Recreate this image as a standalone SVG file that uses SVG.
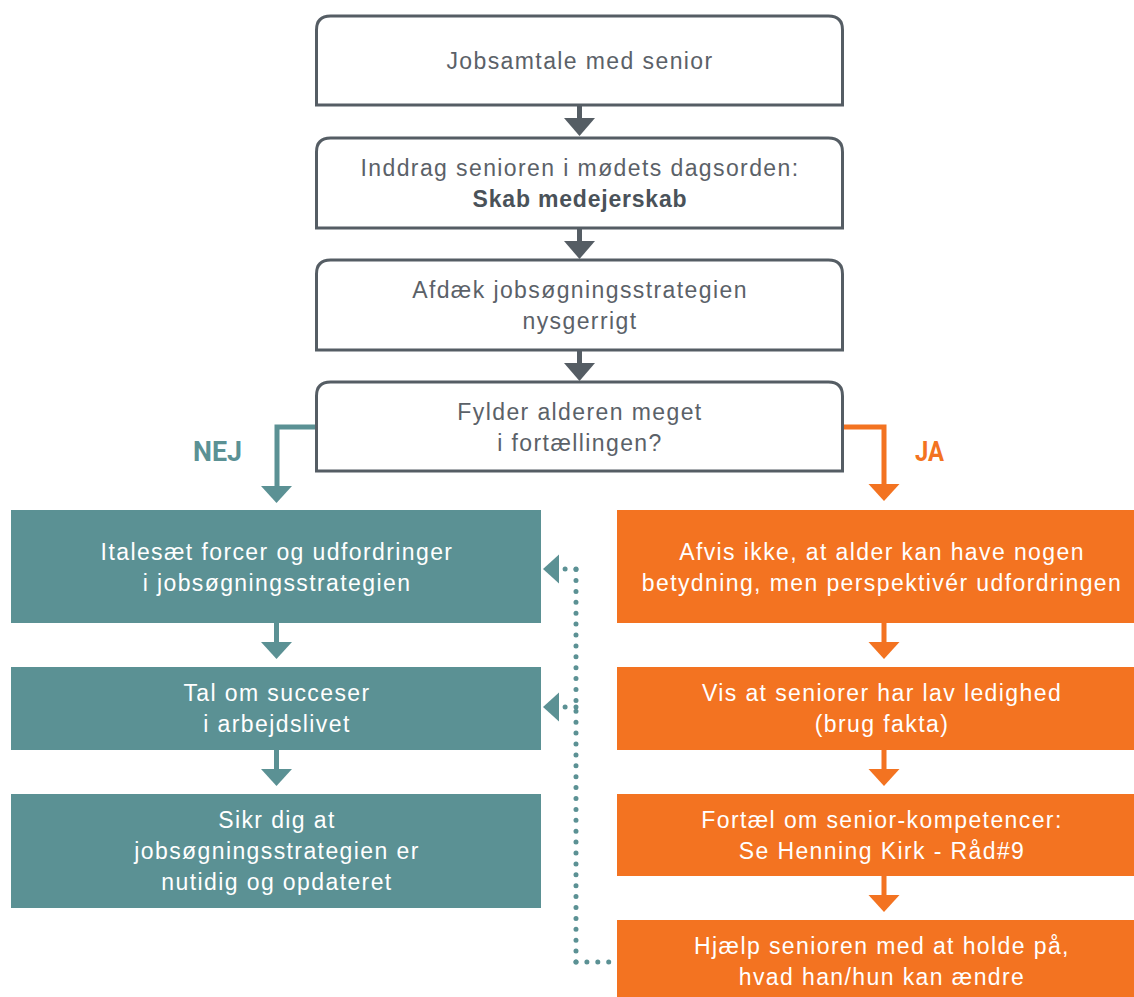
<svg xmlns="http://www.w3.org/2000/svg" width="1134" height="997" viewBox="0 0 1134 997">
<style>
.wbox{fill:#ffffff;stroke:#555d64;stroke-width:3}
.teal{fill:#5b9194}
.orange{fill:#f37321}
.t{font-family:"Liberation Sans",Arial,sans-serif;font-size:23px;letter-spacing:1.4px;text-anchor:middle}
.g{fill:#5b6168}
.w{fill:#ffffff}
.b{font-weight:bold;fill:#4a5259;letter-spacing:0.8px}
.lbl{font-family:Roboto,"Liberation Sans",sans-serif;font-weight:bold;font-size:28px}
.dots{fill:none;stroke:#5b9194;stroke-width:5;stroke-linecap:round;stroke-dasharray:0 10.9}
</style>
<defs>
<g id="gArrow"><rect x="-2.5" y="0" width="5" height="14"/><polygon points="-15.5,13 15.5,13 0,31"/></g>
</defs>

<g id="connectors">
  <g fill="#555d64">
    <use href="#gArrow" x="579.5" y="105"/>
    <use href="#gArrow" x="579.5" y="228"/>
    <use href="#gArrow" x="579.5" y="350"/>
  </g>
  <g id="nej">
    <polyline points="316,427 277,427 277,488" fill="none" stroke="#5b9194" stroke-width="5"/>
    <polygon points="261,486 292,486 276.5,503" fill="#5b9194"/>
  </g>
  <g id="ja">
    <polyline points="843,427 884,427 884,486" fill="none" stroke="#f37321" stroke-width="5"/>
    <polygon points="868.5,484 899.5,484 884,501" fill="#f37321"/>
  </g>
  <g fill="#5b9194">
    <rect x="274" y="623" width="5" height="21"/><polygon points="261,642 292,642 276.5,659"/>
    <rect x="274" y="750" width="5" height="21"/><polygon points="261,769 292,769 276.5,786"/>
  </g>
  <g fill="#f37321">
    <rect x="881.5" y="623" width="5" height="21"/><polygon points="868.5,642 899.5,642 884,659"/>
    <rect x="881.5" y="750" width="5" height="21"/><polygon points="868.5,769 899.5,769 884,786"/>
    <rect x="881.5" y="876" width="5" height="21"/><polygon points="868.5,895 899.5,895 884,912"/>
  </g>
  <g id="dotted">
    <path class="dots" d="M576 962 H617"/>
    <path class="dots" d="M576 962 V569"/>
    <path class="dots" d="M576 569 H565"/>
    <path class="dots" d="M576 707 H565"/>
    <polygon points="543,569 559,554.5 559,583.5" fill="#5b9194"/>
    <polygon points="543,707 559,692.5 559,721.5" fill="#5b9194"/>
  </g>
</g>

<g id="n1">
  <path class="wbox" d="M316.5 105 V30 Q316.5 16 330.5 16 H828.5 Q842.5 16 842.5 30 V105 Z"/>
  <text class="t g" x="580" y="69">Jobsamtale med senior</text>
</g>
<g id="n2">
  <path class="wbox" d="M316.5 228 V152 Q316.5 138 330.5 138 H828.5 Q842.5 138 842.5 152 V228 Z"/>
  <text class="t g" x="580" y="176">Inddrag senioren i mødets dagsorden:</text>
  <text class="t b" x="580" y="207">Skab medejerskab</text>
</g>
<g id="n3">
  <path class="wbox" d="M316.5 350 V274 Q316.5 260 330.5 260 H828.5 Q842.5 260 842.5 274 V350 Z"/>
  <text class="t g" x="580" y="298">Afdæk jobsøgningsstrategien</text>
  <text class="t g" x="580" y="329">nysgerrigt</text>
</g>
<g id="n4">
  <path class="wbox" d="M316.5 471 V396 Q316.5 382 330.5 382 H828.5 Q842.5 382 842.5 396 V471 Z"/>
  <text class="t g" x="580" y="420">Fylder alderen meget</text>
  <text class="t g" x="580" y="451">i fortællingen?</text>
</g>

<text class="lbl" x="193" y="461" fill="#5b9194" textLength="49" lengthAdjust="spacingAndGlyphs">NEJ</text>
<text class="lbl" x="915" y="461" fill="#f37321" textLength="29" lengthAdjust="spacingAndGlyphs">JA</text>

<g id="t1">
  <rect class="teal" x="11" y="510" width="530" height="113"/>
  <text class="t w" x="277" y="560">Italesæt forcer og udfordringer</text>
  <text class="t w" x="277" y="591">i jobsøgningsstrategien</text>
</g>
<g id="t2">
  <rect class="teal" x="11" y="667" width="530" height="83"/>
  <text class="t w" x="277" y="701">Tal om succeser</text>
  <text class="t w" x="277" y="732">i arbejdslivet</text>
</g>
<g id="t3">
  <rect class="teal" x="11" y="794" width="530" height="114"/>
  <text class="t w" x="277" y="828">Sikr dig at</text>
  <text class="t w" x="277" y="859">jobsøgningsstrategien er</text>
  <text class="t w" x="277" y="890">nutidig og opdateret</text>
</g>

<g id="o1">
  <rect class="orange" x="617" y="510" width="530" height="113"/>
  <text class="t w" x="882" y="560">Afvis ikke, at alder kan have nogen</text>
  <text class="t w" x="882" y="591">betydning, men perspektivér udfordringen</text>
</g>
<g id="o2">
  <rect class="orange" x="617" y="667" width="530" height="83"/>
  <text class="t w" x="882" y="701">Vis at seniorer har lav ledighed</text>
  <text class="t w" x="882" y="732">(brug fakta)</text>
</g>
<g id="o3">
  <rect class="orange" x="617" y="794" width="530" height="82"/>
  <text class="t w" x="882" y="828">Fortæl om senior-kompetencer:</text>
  <text class="t w" x="882" y="859">Se Henning Kirk - Råd#9</text>
</g>
<g id="o4">
  <rect class="orange" x="617" y="920" width="530" height="77"/>
  <text class="t w" x="882" y="954">Hjælp senioren med at holde på,</text>
  <text class="t w" x="882" y="985">hvad han/hun kan ændre</text>
</g>
</svg>
